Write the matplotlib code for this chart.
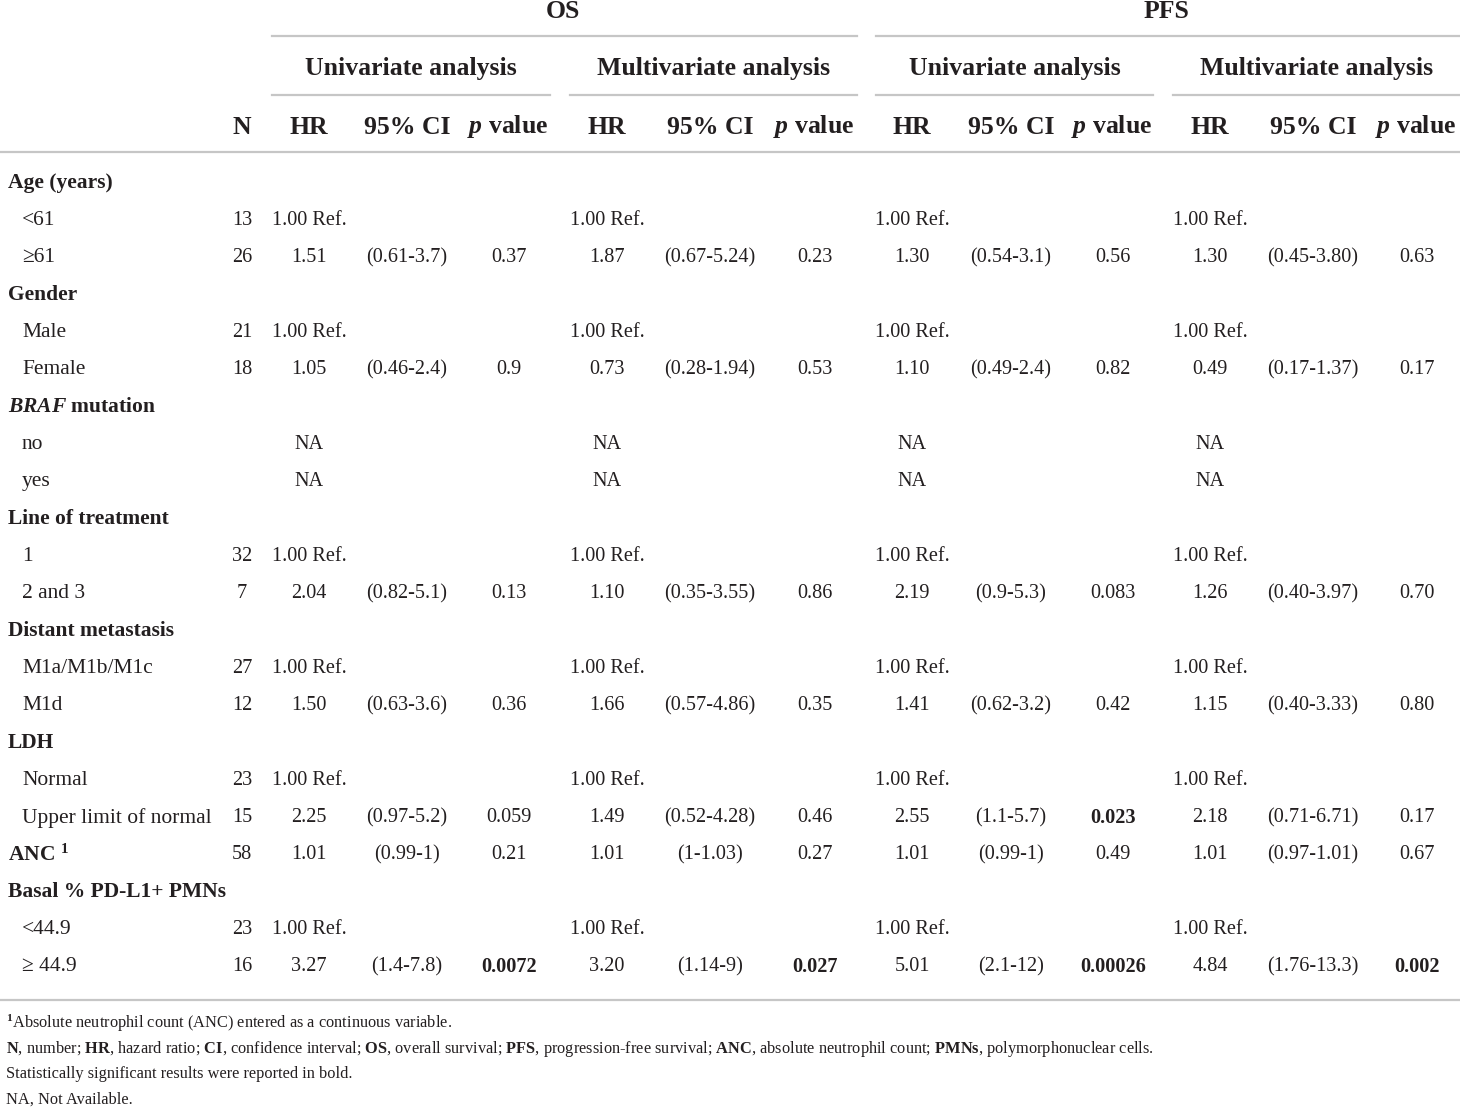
import matplotlib
matplotlib.use("Agg")
import matplotlib.pyplot as plt

plt.rcParams['font.family'] = ['Liberation Serif', 'DejaVu Serif']
plt.rcParams['mathtext.fontset'] = 'custom'
plt.rcParams['mathtext.it'] = 'Liberation Serif:italic:bold'
plt.rcParams['mathtext.rm'] = 'Liberation Serif:bold'
plt.rcParams['mathtext.bf'] = 'Liberation Serif:bold'

# Table content
row_labels = ["Age (years)", "<61", "\u226561", "Gender", "Male", "Female",
              "$BRAF$ mutation", "no", "yes", "Line of treatment", "1", "2 and 3",
              "Distant metastasis", "M1a/M1b/M1c", "M1d", "LDH", "Normal",
              "Upper limit of normal", "ANC $^{1}$", "Basal % PD-L1+ PMNs",
              "<44.9", "\u2265 44.9"]
row_is_group = [1, 0, 0, 1, 0, 0, 1, 0, 0, 1, 0, 0, 1, 0, 0, 1, 0, 0, 1, 1, 0, 0]
n_vals = ["", "13", "26", "", "21", "18", "", "", "", "", "32", "7",
          "", "27", "12", "", "23", "15", "58", "", "23", "16"]

os_uni_hr = ["", "1.00 Ref.", "1.51", "", "1.00 Ref.", "1.05", "", "NA", "NA", "", "1.00 Ref.", "2.04",
             "", "1.00 Ref.", "1.50", "", "1.00 Ref.", "2.25", "1.01", "", "1.00 Ref.", "3.27"]
os_uni_ci = ["", "", "(0.61-3.7)", "", "", "(0.46-2.4)", "", "", "", "", "", "(0.82-5.1)",
             "", "", "(0.63-3.6)", "", "", "(0.97-5.2)", "(0.99-1)", "", "", "(1.4-7.8)"]
os_uni_p = ["", "", "0.37", "", "", "0.9", "", "", "", "", "", "0.13",
            "", "", "0.36", "", "", "0.059", "0.21", "", "", "0.0072"]

os_multi_hr = ["", "1.00 Ref.", "1.87", "", "1.00 Ref.", "0.73", "", "NA", "NA", "", "1.00 Ref.", "1.10",
               "", "1.00 Ref.", "1.66", "", "1.00 Ref.", "1.49", "1.01", "", "1.00 Ref.", "3.20"]
os_multi_ci = ["", "", "(0.67-5.24)", "", "", "(0.28-1.94)", "", "", "", "", "", "(0.35-3.55)",
               "", "", "(0.57-4.86)", "", "", "(0.52-4.28)", "(1-1.03)", "", "", "(1.14-9)"]
os_multi_p = ["", "", "0.23", "", "", "0.53", "", "", "", "", "", "0.86",
              "", "", "0.35", "", "", "0.46", "0.27", "", "", "0.027"]

pfs_uni_hr = ["", "1.00 Ref.", "1.30", "", "1.00 Ref.", "1.10", "", "NA", "NA", "", "1.00 Ref.", "2.19",
              "", "1.00 Ref.", "1.41", "", "1.00 Ref.", "2.55", "1.01", "", "1.00 Ref.", "5.01"]
pfs_uni_ci = ["", "", "(0.54-3.1)", "", "", "(0.49-2.4)", "", "", "", "", "", "(0.9-5.3)",
              "", "", "(0.62-3.2)", "", "", "(1.1-5.7)", "(0.99-1)", "", "", "(2.1-12)"]
pfs_uni_p = ["", "", "0.56", "", "", "0.82", "", "", "", "", "", "0.083",
             "", "", "0.42", "", "", "0.023", "0.49", "", "", "0.00026"]

pfs_multi_hr = ["", "1.00 Ref.", "1.30", "", "1.00 Ref.", "0.49", "", "NA", "NA", "", "1.00 Ref.", "1.26",
                "", "1.00 Ref.", "1.15", "", "1.00 Ref.", "2.18", "1.01", "", "1.00 Ref.", "4.84"]
pfs_multi_ci = ["", "", "(0.45-3.80)", "", "", "(0.17-1.37)", "", "", "", "", "", "(0.40-3.97)",
                "", "", "(0.40-3.33)", "", "", "(0.71-6.71)", "(0.97-1.01)", "", "", "(1.76-13.3)"]
pfs_multi_p = ["", "", "0.63", "", "", "0.17", "", "", "", "", "", "0.70",
               "", "", "0.80", "", "", "0.17", "0.67", "", "", "0.002"]

footnotes = ["$^{1}$Absolute neutrophil count (ANC) entered as a continuous variable.",
             "$\\mathbf{N}$, number; $\\mathbf{HR}$, hazard ratio; $\\mathbf{CI}$, confidence interval; "
             "$\\mathbf{OS}$, overall survival; $\\mathbf{PFS}$, progression-free survival; "
             "$\\mathbf{ANC}$, absolute neutrophil count; $\\mathbf{PMNs}$, polymorphonuclear cells.",
             "Statistically significant results were reported in bold.",
             "NA, Not Available."]

# Layout (pixels)
W, H = 1460, 1109
TXT = '#231f20'
LINE = '#c6c6c6'
FS_LAB = 15.5   # row label column
FS = 14.6       # numbers
FS_HEAD = 18.5
FS_FOOT = 11.8

fig = plt.figure(figsize=(W / 100, H / 100), dpi=100)
ax = fig.add_axes([0, 0, 1, 1])
ax.set_xlim(0, W)
ax.set_ylim(H, 0)
ax.axis('off')

groups = [(os_uni_hr, os_uni_ci, os_uni_p, (309, 407, 509)),
          (os_multi_hr, os_multi_ci, os_multi_p, (607, 710, 815)),
          (pfs_uni_hr, pfs_uni_ci, pfs_uni_p, (912, 1011, 1113)),
          (pfs_multi_hr, pfs_multi_ci, pfs_multi_p, (1210, 1313, 1417))]

# header
ax.text(563, 11, "OS", ha='center', va='center', fontsize=FS_HEAD, fontweight='bold', color=TXT)
ax.text(1167, 11, "PFS", ha='center', va='center', fontsize=FS_HEAD, fontweight='bold', color=TXT)
ax.plot([272, 857], [36, 36], color=LINE, lw=1.6)
ax.plot([876, 1460], [36, 36], color=LINE, lw=1.6)

sub_spans = [(272, 550, "Univariate analysis"), (570, 857, "Multivariate analysis"),
             (876, 1153, "Univariate analysis"), (1173, 1460, "Multivariate analysis")]
for x0, x1, s in sub_spans:
    ax.text((x0 + x1) / 2, 69, s, ha='center', va='center', fontsize=FS_HEAD,
            fontweight='bold', color=TXT)
    ax.plot([x0, x1], [95, 95], color=LINE, lw=1.6)

ax.text(242, 127, "N", ha='center', va='center', fontsize=FS_HEAD, fontweight='bold', color=TXT)
for g in groups:
    xs = g[3]
    ax.text(xs[0], 127, "HR", ha='center', va='center', fontsize=FS_HEAD, fontweight='bold', color=TXT)
    ax.text(xs[1], 127, "95% CI", ha='center', va='center', fontsize=FS_HEAD, fontweight='bold', color=TXT)
    ax.text(xs[2] - 1, 127, "$p$ value", ha='center', va='center', fontsize=FS_HEAD,
            fontweight='bold', color=TXT)
ax.plot([0, W], [152, 152], color=LINE, lw=1.6)

# body
y0, dy = 183, 37.33
for i, lab in enumerate(row_labels):
    y = y0 + i * dy
    if row_is_group[i]:
        ax.text(8, y, lab, ha='left', va='center', fontsize=FS_LAB, fontweight='bold', color=TXT)
    else:
        ax.text(22, y, lab, ha='left', va='center', fontsize=FS_LAB, color=TXT)
    if n_vals[i]:
        ax.text(242, y, n_vals[i], ha='center', va='center', fontsize=FS, color=TXT)
    for hr, ci, pv, xs in groups:
        if hr[i]:
            ax.text(xs[0], y, hr[i], ha='center', va='center', fontsize=FS, color=TXT)
        if ci[i]:
            ax.text(xs[1], y, ci[i], ha='center', va='center', fontsize=FS, color=TXT)
        if pv[i]:
            bold = float(pv[i]) < 0.05
            ax.text(xs[2], y, pv[i], ha='center', va='center', fontsize=FS,
                    fontweight='bold' if bold else 'normal', color=TXT)

ax.plot([0, W], [1000, 1000], color=LINE, lw=1.6)

# footnotes
for k, s in enumerate(footnotes):
    ax.text(6, 1023 + k * 25.7, s, ha='left', va='center', fontsize=FS_FOOT, color=TXT)

fig.savefig("out.png", dpi=100, facecolor='white')
